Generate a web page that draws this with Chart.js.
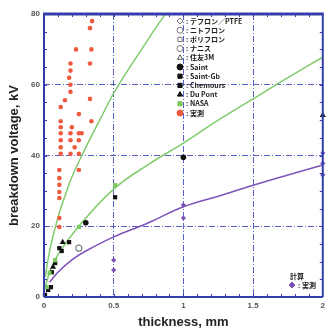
<!DOCTYPE html>
<html lang="ja">
<head>
  <meta charset="UTF-8" />
  <title>breakdown voltage vs thickness</title>
  <script src="https://cdn.jsdelivr.net/npm/chart.js"></script>
  <style>
    html, body { margin: 0; padding: 0; background: #fff; }
    #wrap { width: 329px; height: 331px; }
  </style>
</head>
<body>
  <div id="wrap"><canvas id="bdv" width="329" height="331"></canvas></div>
  <script>
    // --- data (thickness mm / kV) ---
    const xTicks = [0, 0.5, 1, 1.5, 2];
    const yTicks = [0, 20, 40, 60, 80];

    // 実測 (red)
    const measX = [0.345, 0.33, 0.23, 0.34, 0.19, 0.33, 0.19, 0.18, 0.19, 0.19, 0.15, 0.33, 0.12, 0.25, 0.12, 0.34, 0.12, 0.2,
                   0.12, 0.19, 0.25, 0.27, 0.12, 0.19, 0.25, 0.12, 0.22, 0.12, 0.19, 0.25, 0.11, 0.25, 0.11, 0.11, 0.11, 0.11, 0.11, 0.11];
    const measY = [78, 76, 70, 70, 66, 66, 64, 62, 60, 58, 55.6, 56, 53.7, 51.7, 49.7, 49.7, 48, 48,
                   46.3, 46.3, 46.3, 46.3, 44.3, 44.3, 44.3, 42.3, 42.3, 40.5, 40.5, 40.5, 35.9, 35.9, 33.6, 31.7, 29.7, 28, 22.3, 19.8];

    // NASA (green squares)
    const nasaX = [0.02, 0.04, 0.08, 0.25, 0.51];
    const nasaY = [2.8, 6.8, 10.4, 19.8, 31.6];

    // black markers
    const sqX = [0.007, 0.03, 0.05, 0.11, 0.127, 0.18, 0.51, 0.056, 0.08];
    const sqY = [0.6, 2, 2.8, 13.8, 13, 15.5, 28.2, 7, 9.6];
    const triX = [0.134, 0.065, 2];
    const triY = [15.5, 8.5, 51.4];
    const dotX = [0.3, 1];
    const dotY = [21, 39.5];
    const nitoX = [0.25];
    const nitoY = [13.8];

    // purple points
    const purX = [0.5, 0.5, 1, 1, 2, 2, 2];
    const purY = [10.4, 7.6, 26, 22.3, 34.5, 37.8, 40.7];

    // curves
    const steepX = [0.01, 0.02, 0.05, 0.1, 0.15, 0.2, 0.3, 0.4, 0.5, 0.6, 0.7, 0.8, 0.88];
    const steepY = [5.7, 8.5, 14.8, 22.4, 28.5, 33.9, 42.3, 50, 57.6, 64, 70, 76, 80.5];
    const greenX = [0.01, 0.02, 0.05, 0.1, 0.25, 0.5, 0.75, 1, 1.25, 1.5, 1.75, 2];
    const greenY = [3, 4.5, 8, 12, 20, 30.5, 37.5, 43.5, 50, 56, 62, 67.8];
    const purLineX = [0.04, 0.1, 0.2, 0.3, 0.5, 0.75, 1, 1.25, 1.5, 1.75, 2];
    const purLineY = [4.2, 7, 10.5, 13, 17, 21, 25.5, 28.5, 31.6, 34.5, 37.3];

    const legendNames = ['テフロン／PTFE', 'ニトフロン', 'ポリフロン', 'ナニス', '住友3M', 'Saint', 'Saint-Gb', 'Chemours', 'Du Pont', 'NASA', '実測'];
    const legendStyles = ['rectRot', 'circle', 'rect', 'circle', 'triangle', 'circle', 'rect', 'rect', 'triangle', 'rect', 'circle'];
    const legendFill = ['#fff', '#fff', '#fff', '#fff', '#fff', '#111', '#111', '#111', '#111', '#7cc95f', '#ee5a40'];
    const legendStroke = ['#777', '#777', '#777', '#777', '#555', '#111', '#111', '#111', '#111', '#7cc95f', '#ee5a40'];

    const BLUE = 'rgb(52,62,170)';
    const GRID = 'rgba(70,80,190,0.9)';

    function pts(xs, ys) { return xs.map((x, i) => ({ x: x, y: ys[i] })); }

    // frame, minor ticks, legends
    const decor = {
      id: 'decor',
      afterDraw(chart) {
        const ctx = chart.ctx;
        const a = chart.chartArea;
        const xs = chart.scales.x, ys = chart.scales.y;
        ctx.save();
        ctx.strokeStyle = BLUE;
        // minor ticks
        ctx.lineWidth = 1;
        for (let v = 0.1; v < 2; v += 0.1) {
          const px = Math.round(xs.getPixelForValue(v)) + 0.5;
          ctx.beginPath();
          ctx.moveTo(px, a.bottom); ctx.lineTo(px, a.bottom - 3);
          ctx.moveTo(px, a.top); ctx.lineTo(px, a.top + 3);
          ctx.stroke();
        }
        for (let v = 5; v < 80; v += 5) {
          const py = Math.round(ys.getPixelForValue(v)) + 0.5;
          ctx.beginPath();
          ctx.moveTo(a.left, py); ctx.lineTo(a.left + 3, py);
          ctx.moveTo(a.right, py); ctx.lineTo(a.right - 3, py);
          ctx.stroke();
        }
        // frame
        ctx.lineWidth = 2;
        ctx.beginPath();
        ctx.moveTo(a.left, a.bottom); ctx.lineTo(a.right, a.bottom);
        ctx.moveTo(a.left, a.top); ctx.lineTo(a.left, a.bottom);
        ctx.moveTo(a.right, a.top); ctx.lineTo(a.right, a.bottom);
        ctx.stroke();
        ctx.lineWidth = 3;
        ctx.beginPath();
        ctx.moveTo(a.left - 1, a.top); ctx.lineTo(a.right + 1, a.top);
        ctx.stroke();

        // legend upper right
        ctx.font = 'bold 7px "Noto Sans CJK JP", sans-serif';
        ctx.textBaseline = 'middle';
        legendNames.forEach((name, i) => {
          const ly = 21 + i * 9.2;
          ctx.fillStyle = legendFill[i];
          ctx.strokeStyle = legendStroke[i];
          ctx.lineWidth = 1;
          Chart.helpers.drawPoint(ctx, { pointStyle: legendStyles[i], radius: 3, borderWidth: 1 }, 180, ly);
          ctx.fillStyle = '#222';
          ctx.fillText(':', 186, ly);
          ctx.fillText(name, 190, ly);
        });

        // legend lower right
        ctx.fillStyle = '#222';
        ctx.fillText('計算', 290, 276);
        ctx.fillStyle = 'rgb(120,80,180)';
        ctx.strokeStyle = 'rgb(120,80,180)';
        Chart.helpers.drawPoint(ctx, { pointStyle: 'rectRot', radius: 3, borderWidth: 1 }, 292, 285);
        ctx.fillStyle = '#222';
        ctx.fillText(':', 298, 285);
        ctx.fillText('実測', 302, 285);
        ctx.restore();
      }
    };

    function gridColor(c) {
      const v = c.tick ? c.tick.value : null;
      return (v === null || c.index === 0 || c.index === c.chart.scales[c.scale.id].ticks.length - 1) ? 'rgba(0,0,0,0)' : GRID;
    }

    const ctx = document.getElementById('bdv').getContext('2d');
    new Chart(ctx, {
      type: 'scatter',
      data: {
        datasets: [
          { label: 'steep', type: 'line', data: pts(steepX, steepY), borderColor: 'rgb(128,204,108)', borderWidth: 1.5,
            pointRadius: 0, fill: false, tension: 0.4, order: 5 },
          { label: 'green', type: 'line', data: pts(greenX, greenY), borderColor: 'rgb(128,204,108)', borderWidth: 1.5,
            pointRadius: 0, fill: false, tension: 0.4, order: 5 },
          { label: 'purple', type: 'line', data: pts(purLineX, purLineY), borderColor: 'rgb(126,84,184)', borderWidth: 1.5,
            pointRadius: 0, fill: false, tension: 0.4, order: 5 },
          { label: '実測', data: pts(measX, measY), pointStyle: 'circle', pointRadius: 2.3, clip: false,
            backgroundColor: '#ee5a40', borderColor: '#ee5a40', borderWidth: 0 },
          { label: 'NASA', data: pts(nasaX, nasaY), pointStyle: 'rect', pointRadius: 3, clip: false,
            backgroundColor: '#7cc95f', borderColor: '#7cc95f', borderWidth: 0 },
          { label: 'Chemours', data: pts(sqX, sqY), pointStyle: 'rect', pointRadius: 3, clip: false,
            backgroundColor: '#111', borderColor: '#111', borderWidth: 0 },
          { label: 'Du Pont', data: pts(triX, triY), pointStyle: 'triangle', pointRadius: 3.5, clip: false,
            backgroundColor: '#111', borderColor: '#111', borderWidth: 0 },
          { label: 'Saint', data: pts(dotX, dotY), pointStyle: 'circle', pointRadius: 2.8, clip: false,
            backgroundColor: '#111', borderColor: '#111', borderWidth: 0 },
          { label: 'ニトフロン', data: pts(nitoX, nitoY), pointStyle: 'circle', pointRadius: 3, clip: false,
            backgroundColor: '#fff', borderColor: '#888', borderWidth: 1.2 },
          { label: '計算', data: pts(purX, purY), pointStyle: 'rectRot', pointRadius: 2.6, clip: false,
            backgroundColor: 'rgb(120,80,180)', borderColor: 'rgb(120,80,180)', borderWidth: 0 }
        ]
      },
      options: {
        responsive: false,
        animation: false,
        devicePixelRatio: 1,
        layout: { padding: { top: 14, right: 1, left: 0, bottom: 0 } },
        plugins: { legend: { display: false }, tooltip: { enabled: false } },
        scales: {
          x: {
            type: 'linear', min: 0, max: 2,
            afterBuildTicks: s => { s.ticks = xTicks.map(v => ({ value: v })); },
            afterFit: s => { s.height = 34; },
            ticks: { padding: 4, color: '#555', font: { size: 8, weight: 'bold', family: 'Arial, "Liberation Sans", sans-serif' },
                     callback: v => String(v) },
            grid: { color: gridColor, lineWidth: 1, drawTicks: false },
            border: { display: false, dash: [6, 2, 1, 2] },
            title: { display: true, text: 'thickness, mm', color: '#222', padding: { top: 0, bottom: 1 },
                     font: { size: 13, weight: 'bold', family: 'Arial, "Liberation Sans", sans-serif' } }
          },
          y: {
            type: 'linear', min: 0, max: 80,
            afterBuildTicks: s => { s.ticks = yTicks.map(v => ({ value: v })); },
            afterFit: s => { s.width = 44; },
            ticks: { padding: 4, color: '#555', font: { size: 8, weight: 'bold', family: 'Arial, "Liberation Sans", sans-serif' } },
            grid: { color: gridColor, lineWidth: 1, drawTicks: false },
            border: { display: false, dash: [6, 2, 1, 2] },
            title: { display: true, text: 'breakdown voltage, kV', color: '#222', padding: { top: 7, bottom: 0 },
                     font: { size: 13, weight: 'bold', family: 'Arial, "Liberation Sans", sans-serif' } }
          }
        }
      },
      plugins: [decor]
    });
  </script>
</body>
</html>
